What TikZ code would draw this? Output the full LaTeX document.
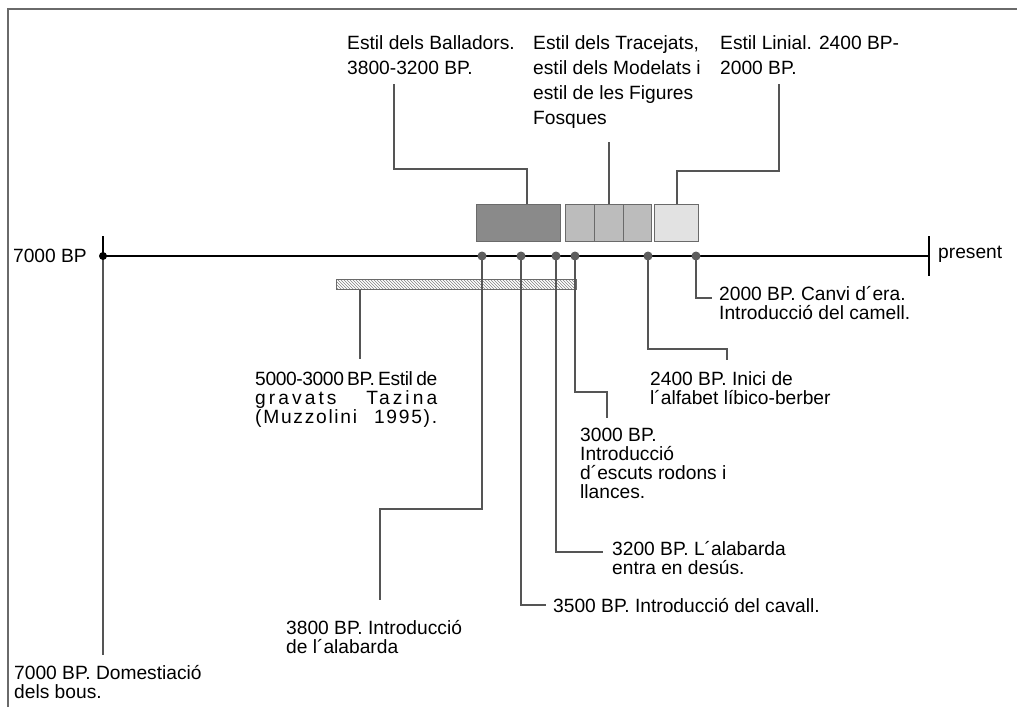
\documentclass[tikz,border=0pt]{standalone}
\usepackage{fontspec}
\setmainfont{Liberation Sans}
\usetikzlibrary{patterns}

\definecolor{framegray}{HTML}{6A6A6A}
\definecolor{linegray}{HTML}{555555}
\definecolor{dotgray}{HTML}{5E5E5E}
\definecolor{darkbox}{HTML}{8A8A8A}
\definecolor{midbox}{HTML}{BCBCBC}
\definecolor{lightbox}{HTML}{E2E2E2}

\begin{document}
\begin{tikzpicture}[x=1pt, y=-1pt,
    conn/.style={draw=linegray, line width=1.4pt},
    axis/.style={draw=black, line width=1.8pt},
    dotnode/.style={circle, fill=dotgray, inner sep=0pt, minimum size=9pt},
    stylebox/.style={draw=framegray, line width=1.2pt, anchor=north west, minimum height=37pt, inner sep=0pt},
    lbl/.style={anchor=north west, inner sep=0pt, align=left, font=\fontsize{19.2}{19}\selectfont},
    lbltop/.style={anchor=north west, inner sep=0pt, align=left, font=\fontsize{19.2}{25}\selectfont}]
  \useasboundingbox (0,0) rectangle (1017,707);

  % Frame
  \draw[framegray, line width=2pt] (8,707) -- (8,9) -- (1017,9);

  % Time axis
  \coordinate (tStart) at (103,256);
  \coordinate (tEnd) at (929,256);
  \draw[axis] (tStart) -- (tEnd);
  \draw[axis] (103,236) -- (tStart);
  \draw[axis] (929,236) -- (929,276);
  \node[anchor=east, inner sep=0pt, font=\fontsize{19.2}{19}\selectfont] (start) at (87,256) {7000 BP};
  \node[anchor=west, inner sep=0pt, font=\fontsize{19.2}{19}\selectfont] (present) at (938,254) {present};

  % Style boxes
  \node[stylebox, fill=darkbox, minimum width=84pt] (ball) at (476,204) {};
  \node[stylebox, fill=midbox, minimum width=29pt] (trac) at (565,204) {};
  \node[stylebox, fill=midbox, minimum width=29pt] (mode) at (594,204) {};
  \node[stylebox, fill=midbox, minimum width=28pt] (fosq) at (623,204) {};
  \node[stylebox, fill=lightbox, minimum width=44pt] (lini) at (654,204) {};

  % Hatched bar
  \node[draw=framegray, line width=1pt, pattern=north west lines, pattern color=gray,
        anchor=north west, minimum width=240pt, minimum height=10pt, inner sep=0pt] (tazi) at (336,279) {};

  % Upper labels
  \node[lbltop] (tBall) at (347,35) {Estil dels Balladors.\\3800-3200 BP.};
  \node[lbltop] (tTrac) at (533,35) {Estil dels Tracejats,\\estil dels Modelats i\\estil de les Figures\\Fosques};
  \node[lbltop] (tLini) at (720,35) {Estil Linial. 2400 BP-\\2000 BP.};

  % Lower labels
  \node[lbl] (t7000) at (14,665) {7000 BP. Domestiació\\dels bous.};
  \node[lbl] (tTazi) at (255,371) {%
    \makebox[182pt][s]{\addfontfeatures{LetterSpace=-2}5000-3000 BP. Estil de}\\
    \makebox[182pt][s]{\addfontfeatures{LetterSpace=16}gravats\hfill Tazina}\\
    \makebox[182pt][s]{\addfontfeatures{LetterSpace=9}(Muzzolini\hfill 1995).}};
  \node[lbl] (t3800) at (286,620) {3800 BP. Introducció\\de l´alabarda};
  \node[lbl] (t3500) at (553,598) {3500 BP. Introducció del cavall.};
  \node[lbl] (t3200) at (612,541) {3200 BP. L´alabarda\\entra en desús.};
  \node[lbl] (t3000) at (580,428) {3000 BP.\\Introducció\\d´escuts rodons i\\llances.};
  \node[lbl] (t2400) at (650,371) {2400 BP. Inici de\\l´alfabet líbico-berber};
  \node[lbl] (t2000) at (719,286) {2000 BP. Canvi d´era.\\Introducció del camell.};

  % Bend points of the connectors
  \coordinate (kBall) at (527,169);
  \coordinate (eBall) at (394,84);
  \coordinate (eTrac) at (609,142);
  \coordinate (kLini) at (677,171);
  \coordinate (eLini) at (779,84);
  \coordinate (eTazi) at (360,359);
  \coordinate (e7000) at (103,655);
  \coordinate (k3800) at (380,509);
  \coordinate (e3800) at (380,600);
  \coordinate (e3500) at (546,605);
  \coordinate (e3200) at (603,552);
  \coordinate (k3000) at (607,392);
  \coordinate (e3000) at (607,418);
  \coordinate (k2400) at (727,349);
  \coordinate (e2400) at (727,360);
  \coordinate (e2000) at (712,298);

  % Dots on the axis
  \coordinate (d7000) at (103,256);
  \coordinate (d3800) at (482,256);
  \coordinate (d3500) at (521,256);
  \coordinate (d3200) at (556,256);
  \coordinate (d3000) at (575,256);
  \coordinate (d2400) at (648,256);
  \coordinate (d2000) at (696,256);

  % Draw the connectors
  \draw[conn] (ball.north -| kBall) -- (kBall) -| (eBall);
  \draw[conn] (mode.north -| eTrac) -- (eTrac);
  \draw[conn] (lini.north -| kLini) -- (kLini) -| (eLini);
  \draw[conn] (tazi.south -| eTazi) -- (eTazi);
  \draw[conn] (d7000) -- (e7000);
  \draw[conn] (d3800) |- (k3800) -- (e3800);
  \draw[conn] (d3500) |- (e3500);
  \draw[conn] (d3200) |- (e3200);
  \draw[conn] (d3000) |- (k3000) -- (e3000);
  \draw[conn] (d2400) |- (k2400) -- (e2400);
  \draw[conn] (d2000) |- (e2000);

  % Draw the dots
  \fill[black] (d7000) circle (4pt);
  \foreach \d in {d3800,d3500,d3200,d3000,d2400,d2000}
    \node[dotnode] at (\d) {};
\end{tikzpicture}
\end{document}
